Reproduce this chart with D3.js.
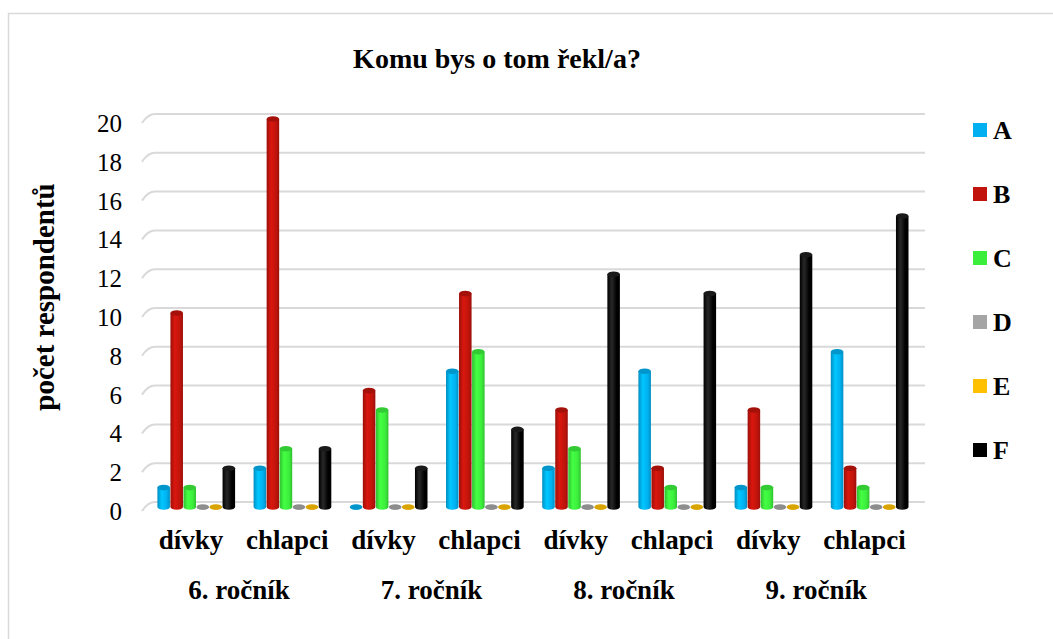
<!DOCTYPE html>
<meta charset="utf-8">
<html>
<head>
<title>Komu bys o tom řekl/a?</title>
</head>
<style>
  body { margin: 0; background: #fff; }
  text { font-family: "Liberation Serif", "Times New Roman", serif; fill: #000; }
  .title { font-size: 28px; font-weight: bold; text-anchor: middle; }
  .ytitle { font-size: 29px; font-weight: bold; text-anchor: middle; }
  .tick { font-size: 25px; text-anchor: end; }
  .cat { font-size: 27px; font-weight: bold; text-anchor: middle; }
  .legend { font-size: 26px; font-weight: bold; }
  .grid { stroke: #d9d9d9; stroke-width: 2; fill: none; }
</style>
<script src="https://d3js.org/d3.v7.min.js"></script>
<body>
<svg width="1053" height="639"></svg>
</body>
<script>
  // data
  var grades = ["6. ročník", "7. ročník", "8. ročník", "9. ročník"];
  var genders = ["dívky", "chlapci"];
  var series = ["A", "B", "C", "D", "E", "F"];
  var colors = ["#00b0f0", "#c0140c", "#3cee3c", "#a5a5a5", "#ffc000", "#000000"];
  // one value per category (grade x gender)
  var A = [1, 2, 0, 7, 2, 7, 1, 8];
  var B = [10, 20, 6, 11, 5, 2, 5, 2];
  var C = [1, 3, 5, 8, 3, 1, 1, 1];
  var D = [0, 0, 0, 0, 0, 0, 0, 0];
  var E = [0, 0, 0, 0, 0, 0, 0, 0];
  var F = [2, 3, 2, 4, 12, 11, 13, 15];
  var yTicks = [0, 2, 4, 6, 8, 10, 12, 14, 16, 18, 20];

  var values = [A, B, C, D, E, F];
  var categories = [];
  grades.forEach(function (g) { genders.forEach(function (s) { categories.push(g + "|" + s); }); });

  var svg = d3.select("svg");

  // chart border
  svg.append("rect")
      .attr("x", 8.5).attr("y", 13.5)
      .attr("width", 1060).attr("height", 640)
      .attr("fill", "none").attr("stroke", "#d9d9d9").attr("stroke-width", 1.5);

  var x = d3.scaleBand().domain(categories).range([148.4, 918]);
  var xs = d3.scaleBand().domain(series).range([9, x.bandwidth() - 9]);
  var y = d3.scaleLinear().domain([0, 20]).range([507, 119]);

  // 3D gridlines (floor edge + back wall)
  var grid = svg.append("g");
  yTicks.forEach(function (t) {
    var yb = y(t) - 5;
    grid.append("path").attr("class", "grid")
        .attr("d", "M142," + (y(t) + 4) + "Q148," + yb + " 155," + yb + "L925," + yb);
  });

  // y ticks
  svg.append("g").selectAll("text").data(yTicks).enter().append("text")
      .attr("class", "tick")
      .attr("x", 122).attr("y", function (d) { return y(d) + 13; })
      .text(function (d) { return d; });

  // gradients for cylinder look
  var defs = svg.append("defs");
  colors.forEach(function (c, i) {
    var g = defs.append("linearGradient").attr("id", "g" + i).attr("x1", 0).attr("x2", 1).attr("y1", 0).attr("y2", 0);
    var base = d3.color(c);
    var light = i === 5 ? d3.rgb(40, 40, 40) : base.brighter(0.35);
    var dark = i === 5 ? d3.rgb(0, 0, 0) : base.darker(0.6);
    g.append("stop").attr("offset", "0%").attr("stop-color", dark);
    g.append("stop").attr("offset", "35%").attr("stop-color", light);
    g.append("stop").attr("offset", "75%").attr("stop-color", base);
    g.append("stop").attr("offset", "100%").attr("stop-color", dark);
  });

  var bars = [];
  categories.forEach(function (cat, ci) {
    series.forEach(function (s, si) {
      bars.push({ cat: cat, s: s, si: si, v: values[si][ci] });
    });
  });

  var ry = 2.8;
  var bw = xs.bandwidth() - 0.5;
  var bar = svg.append("g").selectAll("g").data(bars).enter().append("g")
      .attr("transform", function (d) { return "translate(" + (x(d.cat) + xs(d.s)) + ",0)"; });

  bar.append("path")
      .attr("fill", function (d) { return d.v === 0 ? d3.color(colors[d.si]).darker(0.3) : "url(#g" + d.si + ")"; })
      .attr("d", function (d) {
        var top = y(d.v), bot = y(0);
        return "M0," + top + "L0," + bot +
          "A" + bw / 2 + "," + ry + " 0 0 0 " + bw + "," + bot +
          "L" + bw + "," + top + "Z";
      });
  bar.append("ellipse")
      .attr("cx", bw / 2).attr("cy", function (d) { return y(d.v); })
      .attr("rx", bw / 2).attr("ry", ry)
      .attr("fill", function (d) { return d.si === 5 ? "#1a1a1a" : d3.color(colors[d.si]).darker(0.45); });

  // category labels
  svg.append("g").selectAll("text").data(categories).enter().append("text")
      .attr("class", "cat")
      .attr("x", function (d) { return x(d) + x.bandwidth() / 2 - 5.5; })
      .attr("y", 549)
      .text(function (d) { return d.split("|")[1]; });
  svg.append("g").selectAll("text").data(grades).enter().append("text")
      .attr("class", "cat")
      .attr("x", function (d) { return x(d + "|" + genders[0]) + x.bandwidth() - 5.5; })
      .attr("y", 599)
      .text(function (d) { return d; });

  // titles
  svg.append("text").attr("class", "title").attr("x", 497).attr("y", 68).text("Komu bys o tom řekl/a?");
  svg.append("text").attr("class", "ytitle")
      .attr("transform", "translate(54,297) rotate(-90)")
      .text("počet respondentů");

  // legend
  var leg = svg.append("g").selectAll("g").data(series).enter().append("g")
      .attr("transform", function (d, i) { return "translate(973," + (130 + i * 64) + ")"; });
  leg.append("rect").attr("x", 0).attr("y", -7).attr("width", 14).attr("height", 14)
      .attr("fill", function (d, i) { return colors[i]; });
  leg.append("text").attr("class", "legend").attr("x", 20).attr("y", 8.5).text(function (d) { return d; });
</script>
</html>
